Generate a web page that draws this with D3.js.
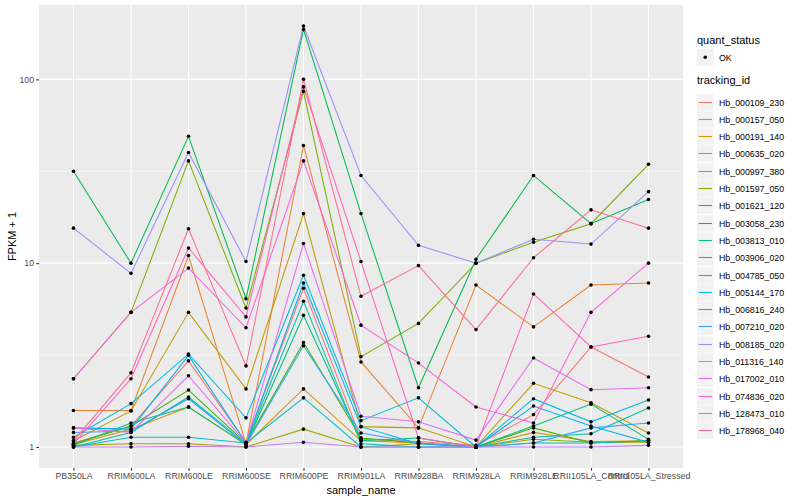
<!DOCTYPE html>
<html>
<head>
<meta charset="utf-8">
<style>
body { margin: 0; background: #fff; }
text { font-family: "Liberation Sans", Arial, sans-serif; }
</style>
</head>
<body>
<script src="https://cdn.jsdelivr.net/npm/d3@7"></script>
<script>
// samples on the x axis
const samples = ["PB350LA", "RRIM600LA", "RRIM600LE", "RRIM600SE", "RRIM600PE", "RRIM901LA",
  "RRIM928BA", "RRIM928LA", "RRIM928LE", "RRII105LA_Control", "RRII105LA_Stressed"];

const trackingIds = ["Hb_000109_230", "Hb_000157_050", "Hb_000191_140", "Hb_000635_020", "Hb_000997_380",
  "Hb_001597_050", "Hb_001621_120", "Hb_003058_230", "Hb_003813_010", "Hb_003906_020",
  "Hb_004785_050", "Hb_005144_170", "Hb_006816_240", "Hb_007210_020", "Hb_008185_020",
  "Hb_011316_140", "Hb_017002_010", "Hb_074836_020", "Hb_128473_010", "Hb_178968_040"];

// FPKM + 1, one value per sample
const hb_000109_230 = [1.05, 1.3, 2.94, 1.06, 7.3, 1.1, 1.07, 1.02, 1.5, 3.5, 2.4];
const hb_000157_050 = [1.58, 1.58, 11.0, 1.04, 43.7, 2.9, 1.27, 7.6, 4.5, 7.6, 7.8];
const hb_000191_140 = [1.03, 1.25, 1.65, 1.03, 2.07, 1.08, 1.05, 1.0, 1.2, 1.07, 1.08];
const hb_000635_020 = [1.08, 1.57, 5.4, 2.07, 18.6, 1.29, 1.27, 1.0, 2.22, 1.74, 1.19];
const hb_000997_380 = [1.02, 1.04, 1.04, 1.0, 1.25, 1.0, 1.04, 1.0, 1.1, 1.06, 1.06];
const hb_001597_050 = [2.35, 5.4, 36, 5.7, 86, 3.1, 4.7, 10.0, 13.0, 16.4, 34.5];
const hb_001621_120 = [1.04, 1.3, 2.04, 1.05, 3.7, 1.12, 1.05, 1.0, 1.27, 1.05, 1.08];
const hb_003058_230 = [31.6, 10.0, 49, 6.4, 187, 18.6, 2.1, 10.5, 30, 16.4, 22.2];
const hb_003813_010 = [1.02, 1.35, 1.65, 1.03, 5.2, 1.08, 1.12, 1.0, 1.3, 1.71, 1.1];
const hb_003906_020 = [1.0, 1.2, 1.87, 1.04, 6.2, 1.04, 1.0, 1.0, 1.13, 1.18, 1.63];
const hb_004785_050 = [1.0, 1.13, 1.13, 1.05, 1.85, 1.0, 1.0, 1.0, 1.05, 1.05, 1.08];
const hb_005144_170 = [1.13, 1.72, 3.2, 1.44, 8.6, 1.39, 1.85, 1.0, 1.83, 1.37, 1.8];
const hb_006816_240 = [1.27, 1.25, 3.15, 1.05, 7.8, 1.29, 1.04, 1.0, 1.67, 1.3, 1.06];
const hb_007210_020 = [1.2, 1.22, 1.83, 1.03, 3.55, 1.19, 1.05, 1.0, 1.05, 1.27, 1.35];
const hb_008185_020 = [15.5, 8.8, 40, 10.2, 195, 30, 12.5, 10.0, 13.5, 12.7, 24.5];
const hb_011316_140 = [1.0, 1.0, 1.01, 1.0, 1.06, 1.0, 1.0, 1.0, 1.0, 1.0, 1.02];
const hb_017002_010 = [1.27, 1.2, 2.44, 1.05, 12.8, 1.47, 1.37, 1.09, 3.05, 2.05, 2.1];
const hb_074836_020 = [2.35, 5.4, 9.4, 4.45, 36, 4.6, 2.86, 1.65, 1.35, 5.4, 10.0];
const hb_128473_010 = [1.04, 2.35, 12.1, 5.1, 91, 10.2, 1.12, 1.0, 6.8, 3.5, 4.0];
const hb_178968_040 = [1.08, 2.53, 15.4, 2.76, 100, 6.6, 9.7, 4.35, 10.7, 19.5, 15.5];

const yTicks = [1, 10, 100];

const series = [hb_000109_230, hb_000157_050, hb_000191_140, hb_000635_020, hb_000997_380,
  hb_001597_050, hb_001621_120, hb_003058_230, hb_003813_010, hb_003906_020,
  hb_004785_050, hb_005144_170, hb_006816_240, hb_007210_020, hb_008185_020,
  hb_011316_140, hb_017002_010, hb_074836_020, hb_128473_010, hb_178968_040];

// ggplot hue palette, 20 levels
const palette = ["#F8766D", "#EA8331", "#D89000", "#C09B00", "#A3A500", "#7CAE00", "#39B600", "#00BB4E",
  "#00BF7D", "#00C1A3", "#00BFC4", "#00BAE0", "#00B0F6", "#35A2FF", "#9590FF", "#C77CFF",
  "#E76BF3", "#FA62DB", "#FF62BC", "#FF6C91"];

const width = 800, height = 500;
const panel = { left: 39, right: 683, top: 5, bottom: 468 };

const svg = d3.select("body").append("svg")
  .attr("width", width)
  .attr("height", height);

let x = d3.scalePoint().domain(samples).range([panel.left, panel.right]).padding(0.6);

// 5% expansion in log space, like ggplot
let all = series.flat();
let lo = Math.log10(d3.min(all)), hi = Math.log10(d3.max(all));
let pad = (hi - lo) * 0.05;
let y = d3.scaleLog()
  .domain([Math.pow(10, lo - pad), Math.pow(10, hi + pad)])
  .range([panel.bottom, panel.top]);

svg.append("rect")
  .attr("x", panel.left).attr("y", panel.top)
  .attr("width", panel.right - panel.left).attr("height", panel.bottom - panel.top)
  .attr("fill", "#EBEBEB");

// minor grid halfway between decades
let minor = [];
for (let i = 0; i < yTicks.length - 1; i++) minor.push(Math.sqrt(yTicks[i] * yTicks[i + 1]));
svg.selectAll(".minor").data(minor).enter().append("line")
  .attr("x1", panel.left).attr("x2", panel.right)
  .attr("y1", d => y(d)).attr("y2", d => y(d))
  .attr("stroke", "#fff").attr("stroke-width", 0.55);

svg.selectAll(".hgrid").data(yTicks).enter().append("line")
  .attr("x1", panel.left).attr("x2", panel.right)
  .attr("y1", d => y(d)).attr("y2", d => y(d))
  .attr("stroke", "#fff").attr("stroke-width", 1.1);

svg.selectAll(".vgrid").data(samples).enter().append("line")
  .attr("x1", d => x(d)).attr("x2", d => x(d))
  .attr("y1", panel.top).attr("y2", panel.bottom)
  .attr("stroke", "#fff").attr("stroke-width", 1.1);

let line = d3.line()
  .x((d, i) => x(samples[i]))
  .y(d => y(d));

series.forEach((s, k) => {
  svg.append("path")
    .attr("d", line(s))
    .attr("fill", "none")
    .attr("stroke", palette[k])
    .attr("stroke-width", 1.05);
});

series.forEach(s => {
  svg.append("g").selectAll("circle").data(s).enter().append("circle")
    .attr("cx", (d, i) => x(samples[i]))
    .attr("cy", d => y(d))
    .attr("r", 1.8)
    .attr("fill", "#000");
});

// axes
let yAxis = svg.append("g")
  .attr("transform", "translate(" + panel.left + ",0)")
  .call(d3.axisLeft(y).tickValues(yTicks).tickFormat(d3.format("d")).tickSize(2.7).tickPadding(2.2));

let xAxis = svg.append("g")
  .attr("transform", "translate(0," + panel.bottom + ")")
  .call(d3.axisBottom(x).tickSize(2.7).tickPadding(2.2));

[xAxis, yAxis].forEach(a => {
  a.select(".domain").remove();
  a.selectAll(".tick line").attr("stroke", "#333333").attr("stroke-width", 1.1);
  a.selectAll(".tick text")
    .attr("fill", "#4D4D4D")
    .style("font-size", "8.8px")
    .style("font-family", '"Liberation Sans", Arial, sans-serif');
});

svg.append("text")
  .attr("x", (panel.left + panel.right) / 2).attr("y", 494)
  .attr("text-anchor", "middle")
  .style("font-size", "11px")
  .text("sample_name");

svg.append("text")
  .attr("transform", "translate(16," + (panel.top + panel.bottom) / 2 + ") rotate(-90)")
  .attr("text-anchor", "middle")
  .style("font-size", "11px")
  .text("FPKM + 1");

// legends
let lx = 697;
svg.append("text").attr("x", lx).attr("y", 44).style("font-size", "11px").text("quant_status");
svg.append("rect").attr("x", lx).attr("y", 49).attr("width", 16.5).attr("height", 16.5).attr("fill", "#F2F2F2");
svg.append("circle").attr("cx", lx + 8.25).attr("cy", 57.25).attr("r", 1.8).attr("fill", "#000");
svg.append("text").attr("x", lx + 22).attr("y", 60.5).style("font-size", "8.8px").text("OK");

svg.append("text").attr("x", lx).attr("y", 84).style("font-size", "11px").text("tracking_id");

let key = svg.selectAll(".key").data(trackingIds).enter().append("g")
  .attr("transform", (d, i) => "translate(" + lx + "," + (Math.round(101.5 + 17.3 * i) + 0.5) + ")");
key.append("rect")
  .attr("x", 0).attr("y", -8.25).attr("width", 16.5).attr("height", 16.5)
  .attr("fill", "#F2F2F2");
key.append("line")
  .attr("x1", 1.6).attr("x2", 14.9).attr("y1", 0).attr("y2", 0)
  .attr("stroke", (d, i) => palette[i]).attr("stroke-width", 1.1);
key.append("text")
  .attr("x", 22).attr("y", 3.2)
  .style("font-size", "8.8px")
  .text(d => d);
</script>
</body>
</html>
